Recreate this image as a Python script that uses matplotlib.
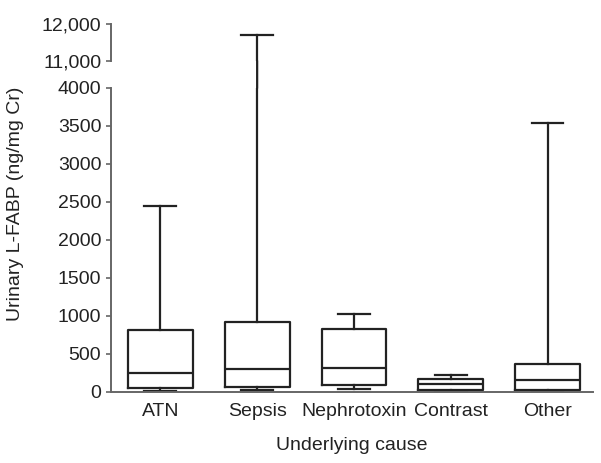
import matplotlib
matplotlib.use("Agg")
import matplotlib.pyplot as plt
from matplotlib.patches import ConnectionPatch

plt.rcParams['font.family'] = ['Liberation Sans', 'DejaVu Sans']

categories = ["ATN", "Sepsis", "Nephrotoxin", "Contrast", "Other"]
whisker_low = [10, 25, 40, 5, 5]
q1 = [53, 70, 90, 25, 25]
median = [250, 300, 320, 100, 160]
q3 = [816, 925, 825, 170, 370]
whisker_high = [2450, 11700, 1025, 230, 3540]

lower_ticks = list(range(0, 4001, 500))
upper_ticks = [11000, 12000]
upper_ticklabels = ["11,000", "12,000"]

text_c = "#222222"
spine_c = "#666666"
box_c = "#222222"
fs = 14

fig = plt.figure(figsize=(6.01, 4.63), dpi=100)
L, W = 111 / 601, 482 / 601
ax = fig.add_axes([L, (463 - 392) / 463, W, 304 / 463])
axu = fig.add_axes([L, (463 - 61) / 463, W, 37 / 463])

stats = []
for i, c in enumerate(categories):
    stats.append(dict(label=c, whislo=whisker_low[i], q1=q1[i], med=median[i],
                      q3=q3[i], whishi=whisker_high[i], fliers=[]))

props = dict(color=box_c, linewidth=1.6)
positions = list(range(1, len(categories) + 1))
for a in (ax, axu):
    a.bxp(stats, positions=positions, widths=0.67, capwidths=0.33,
          showfliers=False,
          boxprops=props, whiskerprops=props, capprops=props,
          medianprops=props)
    a.set_xlim(0.49, 5.47)
    for s in ("top", "right"):
        a.spines[s].set_visible(False)
    a.spines["left"].set_color(spine_c)
    a.spines["left"].set_linewidth(1.4)
    a.tick_params(axis="y", colors=spine_c, labelcolor=text_c, labelsize=fs,
                  length=3.5, width=1.2, direction="out")

ax.set_ylim(0, 4000)
ax.set_yticks(lower_ticks)
ax.spines["bottom"].set_color(spine_c)
ax.spines["bottom"].set_linewidth(1.4)
ax.tick_params(axis="x", length=0, labelsize=fs, labelcolor=text_c, pad=8)
ax.set_xticks(positions)
ax.set_xticklabels(categories)
ax.set_xlabel("Underlying cause", fontsize=fs, color=text_c, labelpad=12)

axu.set_ylim(11000, 12000)
axu.set_yticks(upper_ticks)
axu.set_yticklabels(upper_ticklabels)
axu.spines["bottom"].set_visible(False)
axu.set_xticks([])
axu.patch.set_alpha(0)

# whisker continuing through the axis break
idx = categories.index("Sepsis")
con = ConnectionPatch(xyA=(positions[idx], 4000), coordsA=ax.transData,
                      xyB=(positions[idx], 11000), coordsB=axu.transData,
                      color=box_c, linewidth=1.6)
fig.add_artist(con)

fig.text(16 / 601, 1 - 203.5 / 463, "Urinary L-FABP (ng/mg Cr)", rotation=90,
         ha="center", va="center", fontsize=fs, color=text_c)

fig.savefig("out.png", dpi=100)
